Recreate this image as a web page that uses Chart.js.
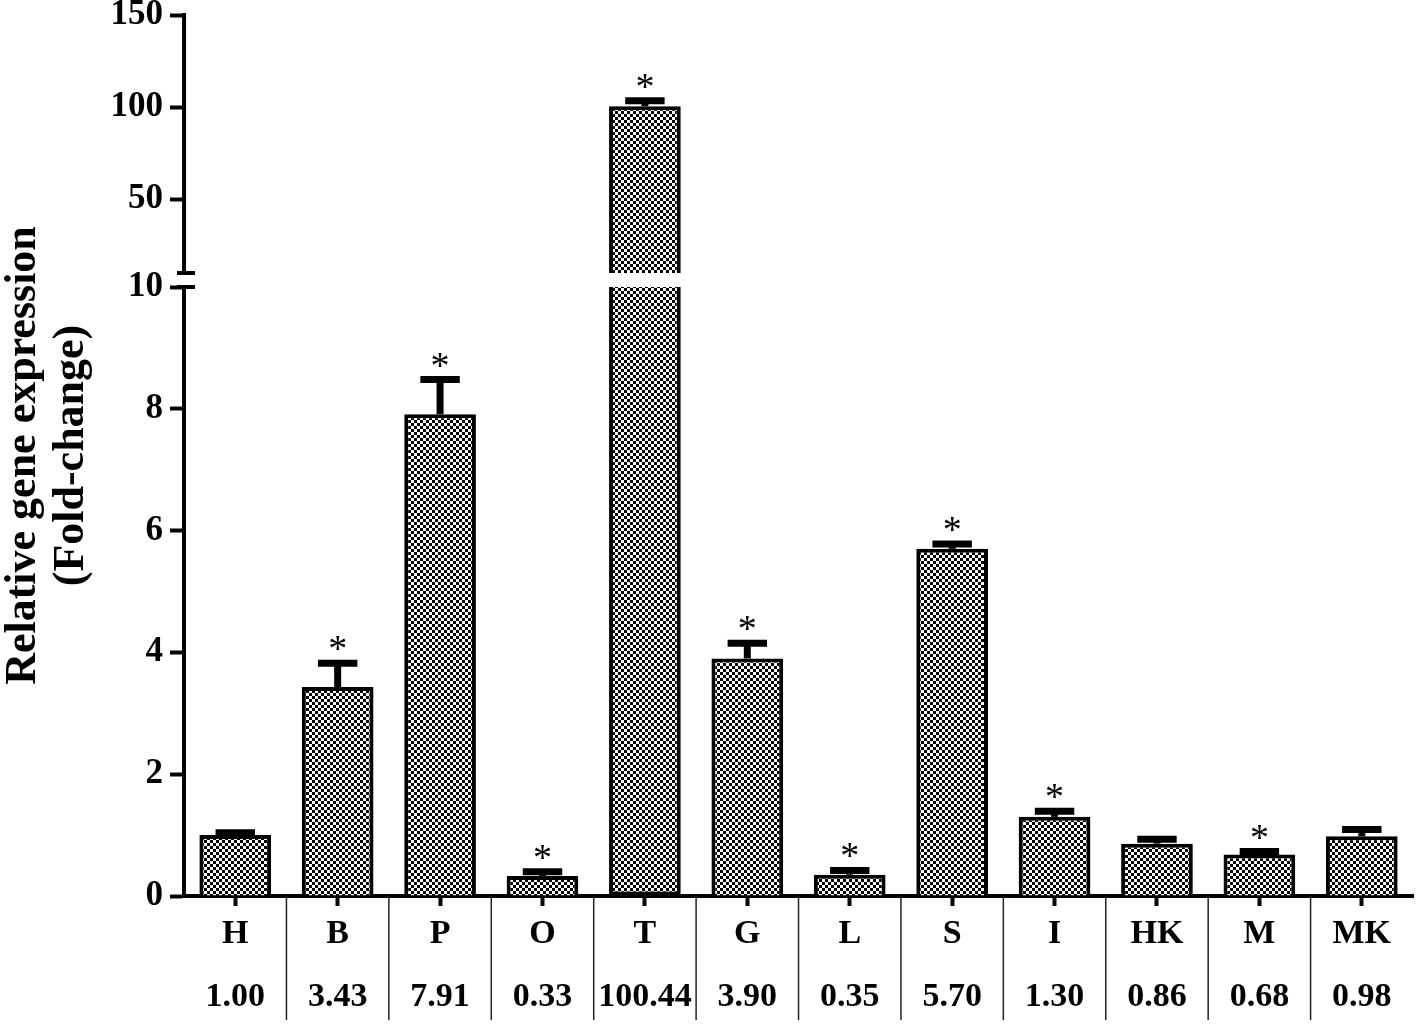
<!DOCTYPE html>
<html>
<head>
<meta charset="utf-8">
<script src="https://cdn.jsdelivr.net/npm/chart.js@4.4.1/dist/chart.umd.min.js"></script>
<style>
  html, body { margin: 0; padding: 0; background: #fff; }
  #wrap { width: 1418px; height: 1024px; position: relative; }
</style>
</head>
<body>
<div id="wrap"><canvas id="c"></canvas></div>
<script>
// ---- data ----
const categories = ['H', 'B', 'P', 'O', 'T', 'G', 'L', 'S', 'I', 'HK', 'M', 'MK'];
const values = [1.00, 3.43, 7.91, 0.33, 100.44, 3.90, 0.35, 5.70, 1.30, 0.86, 0.68, 0.98];
const errors = [0.04, 0.39, 0.57, 0.07, 3.0, 0.25, 0.07, 0.08, 0.09, 0.07, 0.05, 0.11];
const significant = [false, true, true, true, true, true, true, true, true, false, true, false];
const valueLabels = ['1.00', '3.43', '7.91', '0.33', '100.44', '3.90', '0.35', '5.70', '1.30', '0.86', '0.68', '0.98'];
const lowerTicks = [0, 2, 4, 6, 8, 10];
const upperTicks = [50, 100, 150];
const breakValue = 10;
const titleLines = ['Relative gene expression', '(Fold-change)'];

// ---- styles ----
const SERIF = '"Liberation Serif", "Times New Roman", serif';
const canvas = document.getElementById('c');
const ctx0 = canvas.getContext('2d');
function checker() {
  const c = document.createElement('canvas');
  c.width = 6; c.height = 6;
  const g = c.getContext('2d');
  g.fillStyle = '#fff'; g.fillRect(0, 0, 6, 6);
  g.fillStyle = '#000'; g.fillRect(0, 0, 3, 3); g.fillRect(3, 3, 3, 3);
  return ctx0.createPattern(c, 'repeat');
}
const pattern = checker();

const lowerData = values.map(v => Math.min(v, breakValue));
const upperData = values.map(v => v > breakValue ? [breakValue, v] : null);
const xLabels = categories.map((c, i) => [c, valueLabels[i]]);

const decorPlugin = {
  id: 'decor',
  afterDatasetsDraw(chart) {
    const ctx = chart.ctx;
    const xs = chart.scales.x, yl = chart.scales.y, yu = chart.scales.y2;
    const meta = chart.getDatasetMeta(0);
    ctx.save();
    ctx.strokeStyle = '#000';
    ctx.fillStyle = '#000';
    values.forEach((v, i) => {
      const sc = v > breakValue ? yu : yl;
      const x = xs.getPixelForValue(i);
      const yTop = sc.getPixelForValue(v);
      const yErr = sc.getPixelForValue(v + errors[i]);
      const bw = meta.data[i].width;
      const capW = bw * 0.55;
      ctx.lineWidth = 7;
      ctx.lineCap = 'butt';
      ctx.beginPath();
      ctx.moveTo(x, yTop);
      ctx.lineTo(x, yErr);
      ctx.stroke();
      ctx.beginPath();
      ctx.moveTo(x - capW / 2, yErr);
      ctx.lineTo(x + capW / 2, yErr);
      ctx.stroke();
      if (significant[i]) {
        ctx.font = '38px ' + SERIF;
        ctx.textAlign = 'center';
        ctx.textBaseline = 'alphabetic';
        ctx.fillText('*', x, yErr - 2);
      }
    });
    ctx.restore();
  },
  afterDraw(chart) {
    const ctx = chart.ctx;
    const xs = chart.scales.x, yl = chart.scales.y, yu = chart.scales.y2;
    const ax = chart.chartArea.left;
    ctx.save();
    ctx.strokeStyle = '#000';
    // upper y axis line
    ctx.lineWidth = 4;
    ctx.beginPath();
    ctx.moveTo(ax, yu.getPixelForValue(upperTicks[upperTicks.length - 1]) - 2);
    ctx.lineTo(ax, yu.getPixelForValue(breakValue));
    ctx.stroke();
    // break marks
    [yu.getPixelForValue(breakValue), yl.getPixelForValue(breakValue)].forEach(py => {
      ctx.beginPath();
      ctx.moveTo(ax - 7, py);
      ctx.lineTo(ax + 11, py);
      ctx.stroke();
    });
    // separators between categories
    ctx.lineWidth = 1.5;
    ctx.strokeStyle = '#222';
    for (let i = 1; i < categories.length; i++) {
      const px = (xs.getPixelForValue(i - 1) + xs.getPixelForValue(i)) / 2;
      ctx.beginPath();
      ctx.moveTo(px, chart.chartArea.bottom + 2);
      ctx.lineTo(px, chart.height - 4);
      ctx.stroke();
    }
    ctx.restore();
  }
};

const xFont = { family: SERIF, size: 34, weight: 'bold', lineHeight: 1.85 };
const yFont = { family: SERIF, size: 35, weight: 'bold' };
function fixY(s) { s.width = 89; s.paddingTop = 0; s.paddingBottom = 0; }

new Chart(canvas, {
  type: 'bar',
  data: {
    labels: xLabels,
    datasets: [
      {
        data: lowerData,
        yAxisID: 'y',
        grouped: false,
        backgroundColor: pattern,
        borderColor: '#000',
        borderWidth: 4,
        borderSkipped: c => values[c.dataIndex] > breakValue ? 'end' : 'start',
        barPercentage: 0.7,
        categoryPercentage: 1.0
      },
      {
        data: upperData,
        yAxisID: 'y2',
        grouped: false,
        backgroundColor: pattern,
        borderColor: '#000',
        borderWidth: 4,
        borderSkipped: 'start',
        barPercentage: 0.7,
        categoryPercentage: 1.0
      }
    ]
  },
  options: {
    responsive: true,
    maintainAspectRatio: false,
    animation: false,
    events: [],
    layout: { autoPadding: false, padding: { left: 0, top: 15, right: 5, bottom: 0 } },
    plugins: {
      legend: { display: false },
      tooltip: { enabled: false },
      title: {
        display: true,
        position: 'left',
        fullSize: false,
        text: titleLines,
        color: '#000',
        font: { family: SERIF, size: 44, weight: 'bold', lineHeight: 1.08 },
        padding: 0
      }
    },
    scales: {
      x: {
        type: 'category',
        offset: true,
        grid: { display: true, drawOnChartArea: false, offset: false, drawTicks: true, tickLength: 10, tickWidth: 4, tickColor: '#000' },
        border: { display: true, color: '#000', width: 4 },
        ticks: { color: '#000', font: xFont, padding: -3, maxRotation: 0, autoSkip: false },
        afterFit: s => { s.height = 128; s.paddingLeft = 0; s.paddingRight = 0; }
      },
      y: {
        type: 'linear',
        position: 'left',
        stack: 'ys',
        stackWeight: 609,
        min: 0,
        max: breakValue,
        afterBuildTicks: s => { s.ticks = lowerTicks.map(v => ({ value: v })); },
        grid: { display: true, drawOnChartArea: false, drawTicks: true, tickLength: 14, tickWidth: 4, tickColor: '#000' },
        border: { display: true, color: '#000', width: 4 },
        ticks: { color: '#000', font: yFont, padding: 7 },
        afterFit: fixY
      },
      y2: {
        type: 'linear',
        position: 'left',
        stack: 'ys',
        stackWeight: 272,
        min: 2.4,
        max: 150,
        afterBuildTicks: s => { s.ticks = upperTicks.map(v => ({ value: v })); },
        grid: { display: true, drawOnChartArea: false, drawTicks: true, tickLength: 14, tickWidth: 4, tickColor: '#000' },
        border: { display: false },
        ticks: { color: '#000', font: yFont, padding: 7 },
        afterFit: fixY
      }
    }
  },
  plugins: [decorPlugin]
});
</script>
</body>
</html>
